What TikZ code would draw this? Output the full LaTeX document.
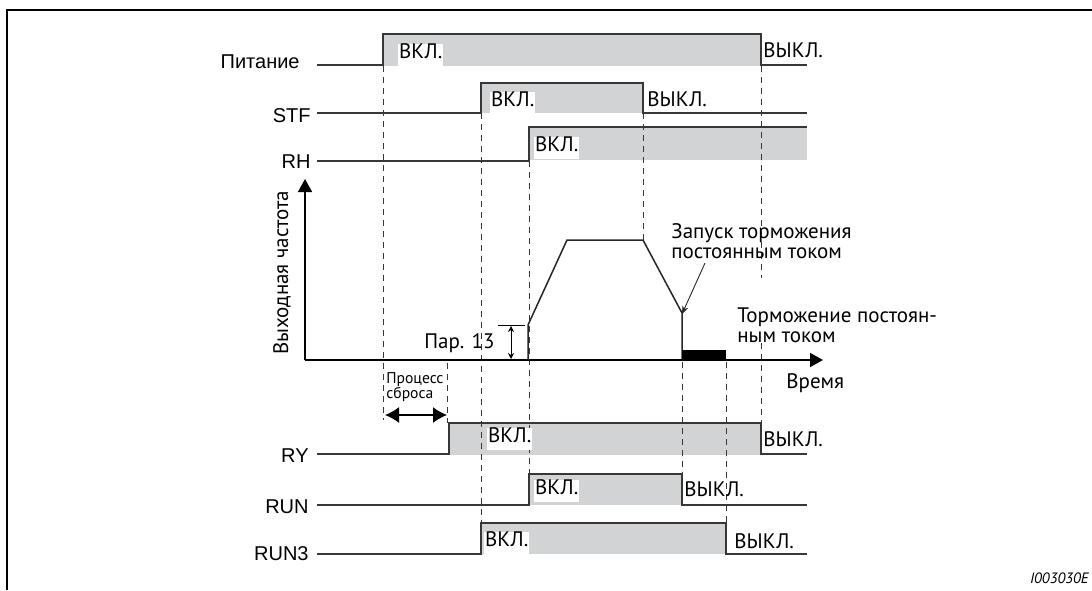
\documentclass[tikz,border=0pt]{standalone}
\usepackage{fontspec}
\setmainfont{PT Sans}
\newfontfamily\arialfam{Liberation Sans}
\usetikzlibrary{arrows.meta}
\definecolor{wavegray}{RGB}{55,55,55}
\definecolor{ongray}{RGB}{210,211,213}
\tikzset{
  frame/.style={draw=black,line width=1pt},
  hi/.style={fill=ongray},
  guide/.style={draw=wavegray,line width=0.45pt,dash pattern=on 3pt off 2.5pt},
  wave/.style={draw=wavegray,line width=0.75pt},
  curve/.style={draw=black!85,line width=0.75pt},
  axis/.style={draw=black,line width=0.75pt,-{Triangle[length=6.5pt,width=7pt]}},
  ptr/.style={draw=black!85,line width=0.45pt,-{Stealth[length=4pt,width=3pt]}},
  sig/.style={font=\arialfam\fontsize{10}{12}\selectfont,anchor=base east,inner sep=0pt},
  onlbl/.style={font=\fontsize{10.5}{11}\selectfont,fill=white,inner xsep=0.3pt,inner ysep=0pt,
    text height=7.2pt,text depth=3.8pt,anchor=north west},
  offlbl/.style={font=\fontsize{10.5}{11}\selectfont,inner sep=0pt,text height=7.2pt,anchor=north west},
  note/.style={font=\fontsize{10.5}{10}\selectfont,align=left,inner sep=0pt},
  tiny note/.style={font=\fontsize{7.8}{7.5}\selectfont,align=left,inner sep=0pt},
}

\begin{document}
\begin{tikzpicture}[x=0.5pt,y=-0.5pt]
  \useasboundingbox (0,0) rectangle (1092,590);
  \draw[frame] (7,590) -- (7,10) -- (1092,10);

  % high phases
  \fill[hi] (383,34) rectangle (761,66);
  \fill[hi] (481,83) rectangle (643,113);
  \fill[hi] (529,127) rectangle (807,160);
  \fill[hi] (449,423) rectangle (761,455);
  \fill[hi] (529,474) rectangle (682,505);
  \fill[hi] (481,523) rectangle (726,554);

  % timing guides
  \foreach \x/\ya/\yb in {383/66/420, 447/363/423, 481/113/523, 529/161/474, 643/113/240,
      682/362/474, 726/362/523, 761/66/278, 761/343/423}
    \draw[guide] (\x,\ya) -- (\x,\yb);

  % signals
  \draw[wave] (317,65) -- (383,65) -- (383,34) -- (761,34) -- (761,65) -- (807,65);
  \draw[wave] (317,113) -- (481,113) -- (481,83) -- (643,83) -- (643,113) -- (807,113);
  \draw[wave] (317,161) -- (529,161) -- (529,127) -- (807,127);
  \draw[wave] (317,454) -- (449,454) -- (449,423) -- (761,423) -- (761,454) -- (807,454);
  \draw[wave] (317,505) -- (529,505) -- (529,474) -- (682,474) -- (682,505) -- (807,505);
  \draw[wave] (317,554) -- (481,554) -- (481,523) -- (726,523) -- (726,554) -- (807,554);

  \node[sig] (pit) at (300,68) {Питание};
  \node[sig] (stf) at (311,122) {STF};
  \node[sig] (rh) at (311,168) {RH};
  \node[sig] (ry) at (309,462) {RY};
  \node[sig] (run) at (309,513) {RUN};
  \node[sig] (run3) at (309,560) {RUN3};

  \node[onlbl] (pit-on) at (398,44) {ВКЛ.};
  \node[offlbl] (pit-off) at (763,43) {ВЫКЛ.};
  \node[onlbl] (stf-on) at (490,92) {ВКЛ.};
  \node[offlbl] (stf-off) at (647,92) {ВЫКЛ.};
  \node[onlbl] (rh-on) at (534,137) {ВКЛ.};
  \node[onlbl] (ry-on) at (487,428) {ВКЛ.};
  \node[offlbl] (ry-off) at (763,432) {ВЫКЛ.};
  \node[onlbl] (run-on) at (534,480) {ВКЛ.};
  \node[offlbl] (run-off) at (684,482) {ВЫКЛ.};
  \node[onlbl] (run3-on) at (484,532) {ВКЛ.};
  \node[offlbl] (run3-off) at (734,534) {ВЫКЛ.};

  % output frequency
  \coordinate (o) at (305,360);
  \draw[axis] (o) -- (305,179);
  \draw[axis] (o) -- (823,360);
  \node[note,rotate=90] (fout) at (282,273) {Выходная частота};
  \draw[curve] (528,360) -- (528,325) -- (567,240) -- (643,240) -- (682,313) -- (682,360);
  \fill[black] (682,350) rectangle (726,360);
  \draw[line width=0.45pt] (498,325) -- (525,325);
  \draw[line width=0.45pt,{Stealth[length=3pt,width=3pt]}-{Stealth[length=3pt,width=3pt]}] (511,326) -- (511,359);
  \node[note,anchor=base east] (par) at (495,348) {Пар. 13};

  \node[note,anchor=north west] (zap) at (671,223) {Запуск торможения\\постоянным током};
  \coordinate (zapfoot) at (705,263);
  \coordinate (dcstart) at (682,314);
  \draw[ptr] (zapfoot) -- (dcstart);
  \node[note,anchor=north west] (brk) at (737,307) {Торможение постоян-\\ным током};
  \node[note,anchor=north west] (time) at (786,373) {Время};

  \node[tiny note,anchor=north west] (reset) at (386,372) {Процесс\\сброса};
  \draw[line width=0.75pt,{Latex[length=7pt,width=8pt]}-{Latex[length=7pt,width=8pt]}] (385,415) -- (447,415);

  \node[font=\itshape\fontsize{7.5}{9}\selectfont,anchor=base east,inner sep=0pt] (fig) at (1089,583) {I003030E};
\end{tikzpicture}
\end{document}
